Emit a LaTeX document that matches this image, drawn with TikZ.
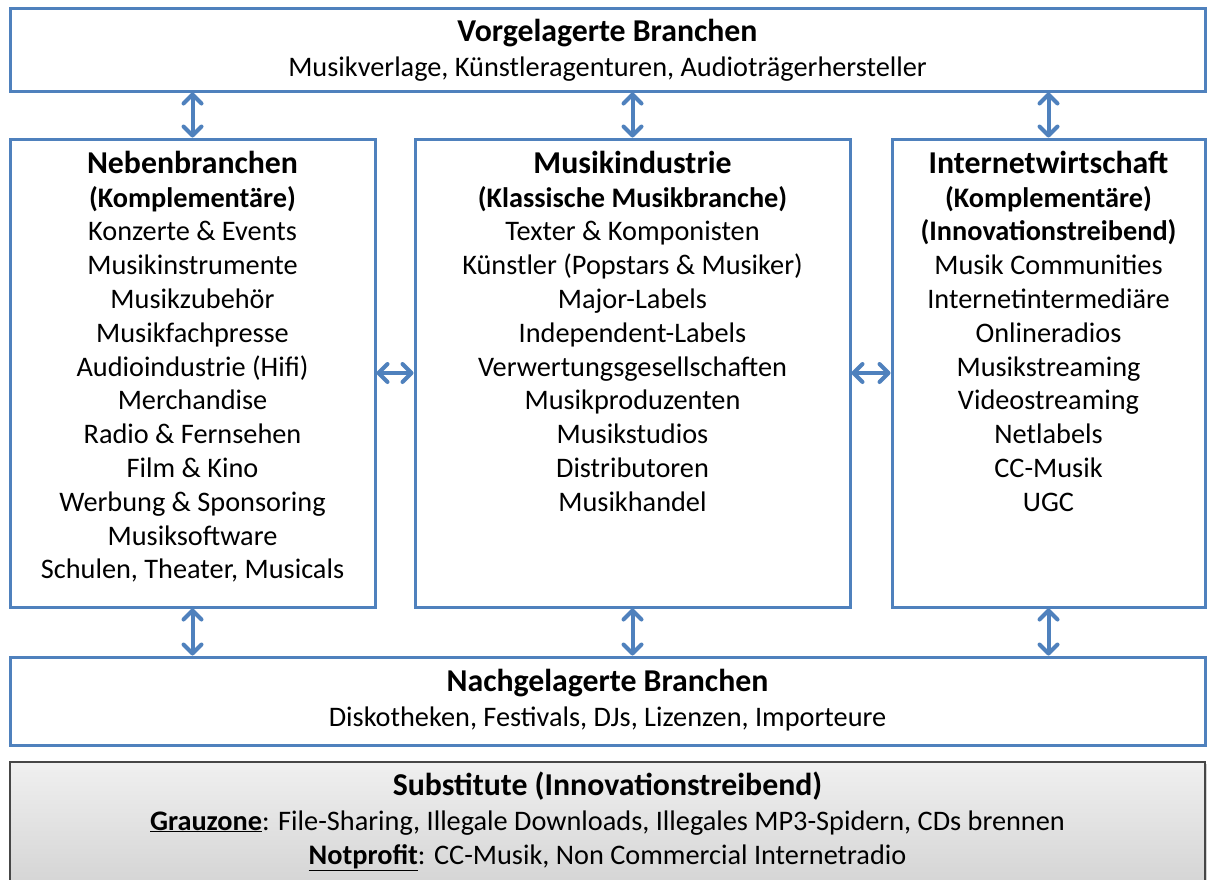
\documentclass[tikz,border=0pt]{standalone}
\usepackage{fontspec}
\setmainfont{Carlito}
\usetikzlibrary{arrows.meta,shadows}
\definecolor{obl}{RGB}{79,129,189}
\definecolor{gborder}{RGB}{70,70,70}
\tikzset{
  box/.style={draw=obl, line width=3pt, fill=white, inner sep=0pt},
  gbox/.style={draw=gborder, line width=1.5pt, top color=gray!12, bottom color=gray!38, inner sep=0pt, drop shadow={opacity=0.35, shadow xshift=2pt, shadow yshift=-2pt}},
  arrtip/.tip={Straight Barb[length=9pt,width=18pt,line width=4pt,line cap=round,line join=round]},
  arr/.style={draw=obl, line width=4pt, arrtip-arrtip},
  txt/.style={inner sep=0pt, anchor=base, font=\fontsize{28.3}{34}\selectfont},
  ttl/.style={inner sep=0pt, anchor=base, font=\fontsize{31.8}{36}\selectfont\bfseries}}
\begin{document}
\begin{tikzpicture}[x=1pt,y=-1pt]
\clip (0,0) rectangle (1212,879);
\fill[white] (0,0) rectangle (1212,879);
% boxes
\node[box, minimum width=1195pt, minimum height=83pt] (top) at (607.5,49.5) {};
\node[box, minimum width=365pt, minimum height=468pt] (left) at (192.5,373) {};
\node[box, minimum width=435pt, minimum height=468pt] (mid) at (632.5,373) {};
\node[box, minimum width=313pt, minimum height=468pt] (right) at (1048.5,373) {};
\node[box, minimum width=1195pt, minimum height=88pt] (bot) at (607.5,701) {};
\node[gbox, minimum width=1195pt, minimum height=150pt] (sub) at (607.5,837) {};
% top box text
\node[ttl] (toptitle) at (607.5,41) {Vorgelagerte Branchen};
\node[txt] (topline) at (607.5,76) {Musikverlage, Künstleragenturen, Audioträgerhersteller};
% left box text
\node[ttl] (lefttitle) at (192.5,173) {Nebenbranchen};
\foreach \t [count=\i from 0] in {\textbf{(Komplementäre)},Konzerte \& Events,Musikinstrumente,Musikzubehör,Musikfachpresse,Audioindustrie (Hifi),Merchandise,Radio \& Fernsehen,Film \& Kino,Werbung \& Sponsoring,Musiksoftware,{Schulen, Theater, Musicals}}
  \node[txt] (left-\i) at (192.5,207+33.8*\i) {\t};
% middle box text
\node[ttl] (midtitle) at (632.5,173) {Musikindustrie};
\foreach \t [count=\i from 0] in {\textbf{(Klassische Musikbranche)},Texter \& Komponisten,Künstler (Popstars \& Musiker),Major-Labels,Independent-Labels,Verwertungsgesellschaften,Musikproduzenten,Musikstudios,Distributoren,Musikhandel}
  \node[txt] (mid-\i) at (632.5,207+33.8*\i) {\t};
% right box text
\node[ttl] (righttitle) at (1048.5,173) {Internetwirtschaft};
\foreach \t [count=\i from 0] in {\textbf{(Komplementäre)},\textbf{(Innovationstreibend)},Musik Communities,Internetintermediäre,Onlineradios,Musikstreaming,Videostreaming,Netlabels,CC-Musik,UGC}
  \node[txt] (right-\i) at (1048.5,207+33.8*\i) {\t};
% bottom box text
\node[ttl] (bottitle) at (607.5,691) {Nachgelagerte Branchen};
\node[txt] (botline) at (607.5,726) {Diskotheken, Festivals, DJs, Lizenzen, Importeure};
% substitute box text
\node[ttl] (subtitle) at (607.5,795) {Substitute (Innovationstreibend)};
\node[txt] (subline1) at (607.5,830) {\textbf{\underline{Grauzone}}: File-Sharing, Illegale Downloads, Illegales MP3-Spidern, CDs brennen};
\node[txt] (subline2) at (607.5,864) {\textbf{\underline{Notprofit}}: CC-Musik, Non Commercial Internetradio};
% arrows
\draw[arr] (top.south -| left.north) -- (left.north);
\draw[arr] (top.south -| mid.north) -- (mid.north);
\draw[arr] (top.south -| right.north) -- (right.north);
\draw[arr] (left.south) -- (bot.north -| left.south);
\draw[arr] (mid.south) -- (bot.north -| mid.south);
\draw[arr] (right.south) -- (bot.north -| right.south);
\draw[arr] (left.east) -- (mid.west);
\draw[arr] (mid.east) -- (right.west);
\end{tikzpicture}
\end{document}
